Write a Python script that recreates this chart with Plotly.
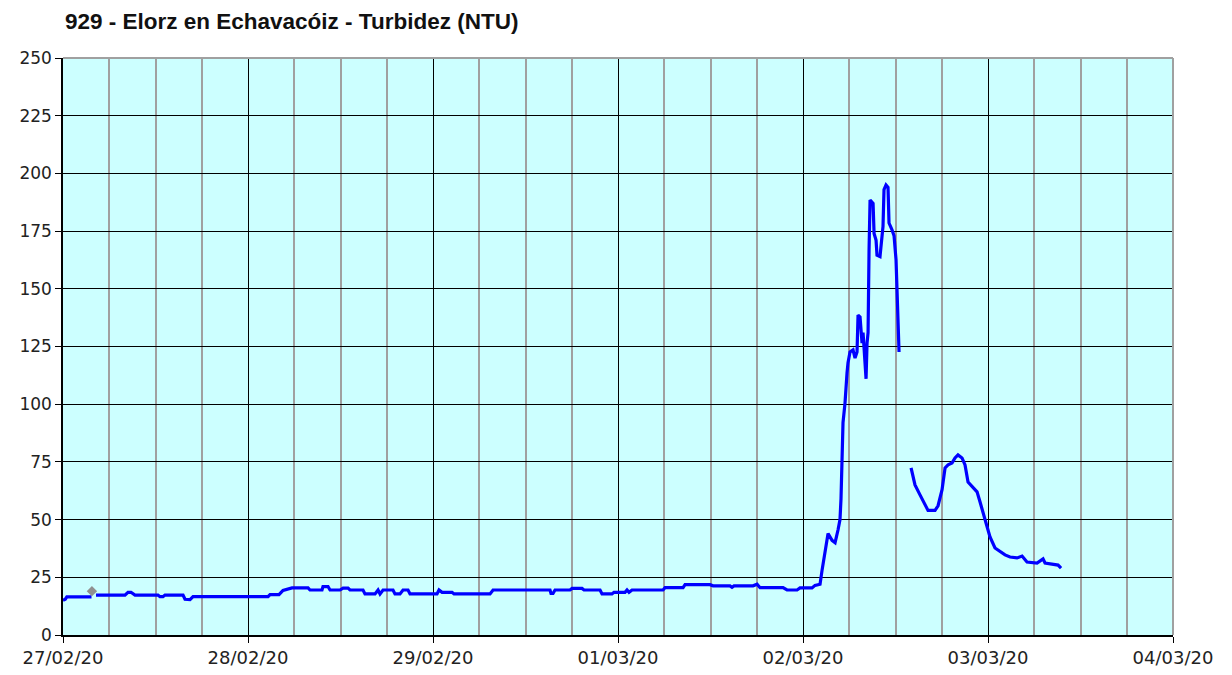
import pandas as pd
import plotly.graph_objects as go

START = pd.Timestamp("2020-02-27 00:00")

# Hours since 27/02/20 00:00 and turbidity (NTU)
seg1_hours = [0.0, 0.3, 0.5, 3.7]
seg1_values = [15.0, 15.5, 16.5, 16.5]

flag_hours = [3.75]
flag_values = [19.0]

seg2_hours = [4.28, 8.04, 8.43, 8.82, 9.34, 12.32, 12.58, 12.97, 13.23, 15.57, 15.83, 16.48, 16.87,
              26.60, 26.86, 28.02, 28.54, 29.71, 31.79, 32.04, 33.60, 33.73, 34.38, 34.64, 35.94,
              36.33, 36.98, 37.23, 38.92, 39.18, 40.48, 40.87, 41.13, 41.52, 42.81, 43.07, 43.72,
              44.11, 44.76, 45.02, 48.52, 48.78, 49.17, 50.47, 50.73, 55.40, 55.79, 63.18, 63.31,
              63.57, 63.83, 65.78, 66.04, 67.33, 67.59, 69.67, 69.93, 71.22, 71.48, 72.91, 73.17,
              73.43, 73.82, 77.84, 78.10, 80.44, 80.70, 83.94, 84.33, 86.53, 86.79, 87.05, 89.52,
              90.04, 90.43, 93.41, 93.93, 95.23, 95.61, 97.17, 97.56, 98.21, 98.47, 98.73, 98.99,
              99.25, 99.77, 100.16, 100.54, 100.80, 100.93, 101.06, 101.19, 101.45, 101.58, 101.71,
              101.84, 102.10, 102.49, 102.75, 103.01, 103.14, 103.40, 103.66, 103.79, 104.05,
              104.18, 104.31, 104.44, 104.57, 104.70, 105.09, 105.22, 105.48, 105.60, 105.99,
              106.25, 106.38, 106.51, 106.77, 107.03, 107.16, 107.55, 107.81, 108.07, 108.20,
              108.33, 108.46]
seg2_values = [17.3, 17.3, 18.5, 18.5, 17.3, 17.3, 16.6, 16.6, 17.3, 17.3, 15.5, 15.3, 16.6,
               16.6, 17.5, 17.5, 19.3, 20.4, 20.4, 19.5, 19.5, 21.0, 21.0, 19.5, 19.5,
               20.3, 20.3, 19.5, 19.5, 17.8, 17.8, 19.5, 17.8, 19.5, 19.5, 17.8, 17.8,
               19.5, 19.5, 17.8, 17.8, 19.5, 18.5, 18.5, 17.8, 17.8, 19.5, 19.5, 18.0,
               18.0, 19.5, 19.5, 20.2, 20.2, 19.5, 19.5, 17.8, 17.8, 18.5, 18.5, 19.5,
               18.5, 19.5, 19.5, 20.5, 20.5, 21.8, 21.8, 21.3, 21.3, 20.7, 21.3, 21.3,
               22.0, 20.5, 20.5, 19.5, 19.5, 20.4, 20.4, 21.5, 22.0, 28.0, 33.0, 38.0,
               44.0, 41.0, 40.0, 45.5, 50.0, 59.0, 74.5, 92.0, 100.5, 109.6, 113.5,
               118.0, 122.6, 123.5, 120.0, 122.6, 138.6, 137.8, 126.5, 131.0, 118.0,
               111.0, 126.5, 131.0, 167.0, 188.5, 187.0, 174.0, 171.0, 164.6, 164.0,
               172.0, 177.0, 193.0, 195.0, 194.0, 178.5, 175.5, 173.0, 162.5, 147.0,
               133.5, 122.6]

seg3_hours = [110.02, 110.53, 111.18, 111.57, 112.22, 113.13, 113.52, 114.04, 114.43, 114.82,
              115.33, 115.72, 116.11, 116.63, 117.02, 117.41, 118.06, 118.58, 118.97, 119.36,
              119.88, 120.26, 120.91, 121.56, 122.21, 122.86, 123.77, 124.42, 125.06, 126.36,
              127.14, 127.40, 128.05, 129.09, 129.48]
seg3_values = [72.4, 65.0, 60.7, 58.0, 54.0, 54.0, 56.0, 63.0, 72.4, 73.7,
               74.5, 76.7, 78.0, 76.7, 73.7, 66.3, 64.0, 62.0, 57.6, 52.8,
               47.7, 42.5, 37.7, 36.0, 34.7, 33.8, 33.4, 34.2, 31.6, 31.2,
               33.0, 31.2, 30.8, 30.3, 29.0]

title_text = "929 - Elorz en Echavacóiz - Turbidez (NTU)"
x_start, x_end = "2020-02-27", "2020-03-04"
y_ticks = [0, 25, 50, 75, 100, 125, 150, 175, 200, 225, 250]


def to_time(hours):
    return START + pd.to_timedelta(hours, unit="h")


fig = go.Figure()
for hrs, vals in [(seg1_hours, seg1_values), (seg2_hours, seg2_values), (seg3_hours, seg3_values)]:
    fig.add_trace(go.Scatter(x=to_time(hrs), y=vals, mode="lines",
                             line=dict(color="#0000FF", width=3.2), showlegend=False,
                             hoverinfo="x+y"))
fig.add_trace(go.Scatter(x=to_time(flag_hours), y=flag_values, mode="markers",
                         marker=dict(symbol="diamond", size=8, color="#909090"),
                         showlegend=False))

font_family = "DejaVu Sans"
fig.update_layout(
    width=1232, height=675,
    margin=dict(l=63, r=59, t=58, b=40),
    paper_bgcolor="white", plot_bgcolor="#CCFFFF",
    font=dict(family=font_family, size=16, color="#222222"),
    annotations=[dict(text="<b>" + title_text + "</b>", xref="paper", yref="paper",
                      x=0.0, y=1.064, xanchor="left", yanchor="middle", showarrow=False,
                      font=dict(family="Liberation Sans", size=22.5, color="#111111"))],
    xaxis=dict(type="date", range=[x_start, x_end], dtick=86400000, tick0=x_start,
               tickformat="%d/%m/%y", showgrid=True, gridcolor="#000000", gridwidth=1.3,
               minor=dict(dtick=21600000, showgrid=True, gridcolor="#A0A0A0", gridwidth=1.5),
               showline=True, linecolor="#000000", linewidth=1.5,
               ticks="outside", ticklen=6, tickcolor="#000000",
               tickfont=dict(family=font_family, size=18, color="#222222"),
               zeroline=False, fixedrange=True, automargin=False),
    yaxis=dict(range=[0, 250], tickvals=y_ticks, showgrid=True, gridcolor="#000000", gridwidth=1.3,
               showline=True, linecolor="#000000", linewidth=1.5,
               ticks="outside", ticklen=6, tickcolor="#000000",
               tickfont=dict(family=font_family, size=17, color="#222222"),
               zeroline=False, fixedrange=True, automargin=False),
    shapes=[
        dict(type="line", xref="paper", yref="paper", x0=0, x1=1, y0=1, y1=1,
             line=dict(color="#A0A0A0", width=2), layer="above"),
        dict(type="line", xref="paper", yref="paper", x0=1, x1=1, y0=0, y1=1,
             line=dict(color="#A0A0A0", width=2), layer="above"),
    ],
)

fig.write_html("out.html", config={"displayModeBar": False},
               post_script="document.body.style.margin='0px';")
